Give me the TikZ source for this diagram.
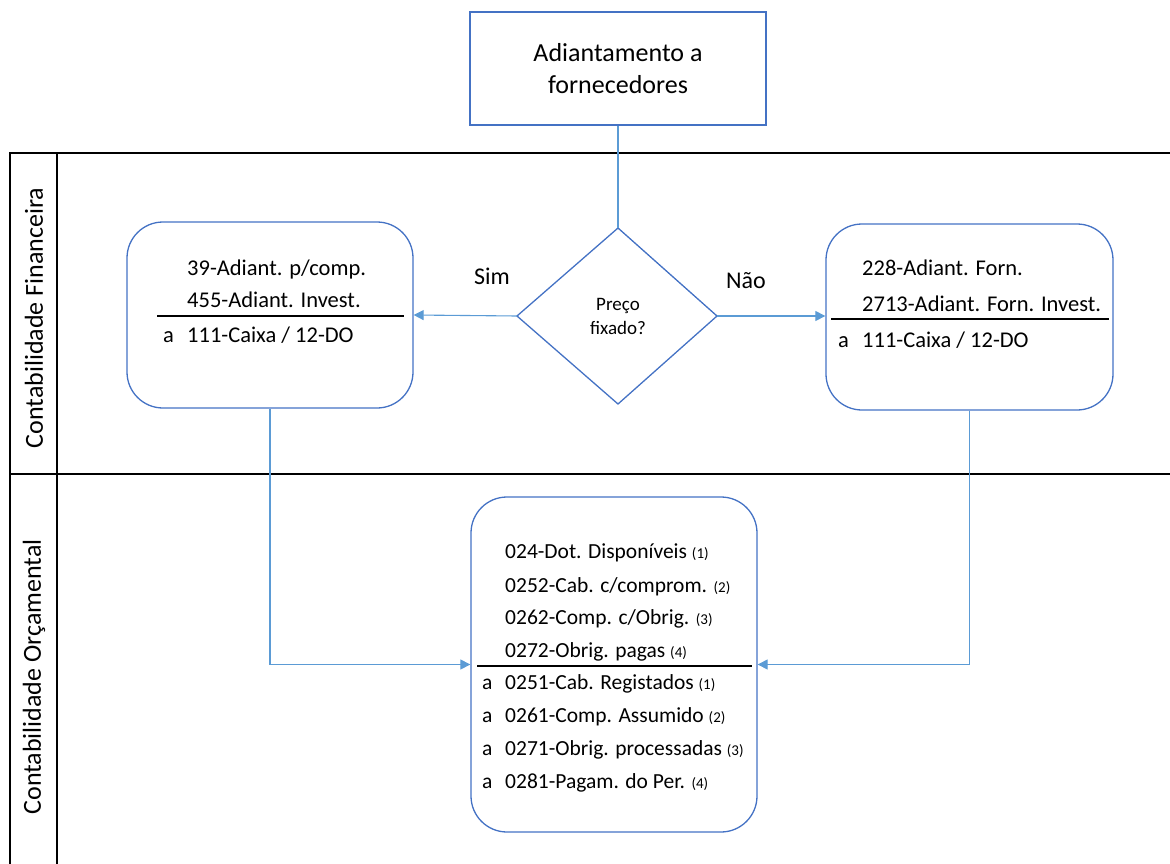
\documentclass[tikz,border=0pt]{standalone}
\usepackage{fontspec}
\setmainfont{Carlito}
\usetikzlibrary{arrows.meta,calc}
\definecolor{boxblue}{RGB}{68,114,196}
\definecolor{arrblue}{RGB}{91,155,213}
\newcommand{\smnum}[1]{{\fontsize{15}{16}\selectfont #1}}
\tikzset{
  x=1pt,y=-1pt,
  lane/.style={line width=2pt,black},
  procbox/.style={draw=boxblue,line width=1.3pt,rounded corners=36pt,inner sep=0pt},
  topbox/.style={draw=boxblue,line width=1.6pt,inner sep=0pt,align=center,font=\fontsize{26}{32}\selectfont},
  conn/.style={draw=arrblue,line width=1.1pt},
  arr/.style={conn,-{Triangle[length=10pt,width=10pt]}},
  txt/.style={anchor=base west,inner sep=0pt,font=\fontsize{22.5}{26}\selectfont},
  btxt/.style={anchor=base west,inner sep=0pt,font=\fontsize{21.5}{26}\selectfont},
  rule/.style={line width=1.6pt,black},
  lanelabel/.style={rotate=90,font=\fontsize{26}{30}\selectfont},
  lbl/.style={font=\fontsize{24}{26}\selectfont,anchor=base},
}
\begin{document}
\begin{tikzpicture}
\useasboundingbox (0,0) rectangle (1170,864);
% swimlanes
\draw[lane] (1170,153) -- (10,153) -- (10,864);
\draw[lane] (57,153) -- (57,864);
\draw[lane] (10,474) -- (1170,474);
\node[lanelabel] (lfin) at (34,318) {Contabilidade Financeira};
\node[lanelabel] (lorc) at (34,677) {Contabilidade Orçamental};
% top box
\node[topbox,minimum width=296,minimum height=113] (top) at (618,68.5) {Adiantamento a\\fornecedores};
% diamond
\coordinate (dt) at (618,228);
\coordinate (dl) at (517,316);
\coordinate (dr) at (717,316);
\coordinate (db) at (618,404);
\draw[draw=boxblue,line width=1.3pt] (dt) -- (dr) -- (db) -- (dl) -- cycle;
\node[align=center,inner sep=0pt,font=\fontsize{19}{24}\selectfont] (q) at (618,316) {Preço\\fixado?};
% left box
\node[procbox,minimum width=286,minimum height=186] (lb) at (270,315) {};
\node[txt] (l1) at (187,275) {39-Adiant. p/comp.};
\node[txt] (l2) at (187,307) {455-Adiant. Invest.};
\draw[rule] (157,316) -- (404,316);
\node[txt] (la) at (163,342) {a};
\node[txt] (l3) at (187,342) {111-Caixa / 12-DO};
% right box
\node[procbox,minimum width=287,minimum height=186] (rb) at (969.5,317) {};
\node[txt] (r1) at (862,275) {228-Adiant. Forn.};
\node[txt] (r2) at (862,311) {2713-Adiant. Forn. Invest.};
\draw[rule] (831,319) -- (1109,319);
\node[txt] (ra) at (838,347) {a};
\node[txt] (r3) at (862,347) {111-Caixa / 12-DO};
% bottom box
\node[procbox,minimum width=286,minimum height=335] (bb) at (614,664.5) {};
\node[btxt] (b1) at (505,558) {024-Dot. Disponíveis \smnum{(1)}};
\node[btxt] (b2) at (505,592) {0252-Cab. c/comprom. \smnum{(2)}};
\node[btxt] (b3) at (505,624) {0262-Comp. c/Obrig. \smnum{(3)}};
\node[btxt] (b4) at (505,657) {0272-Obrig. pagas \smnum{(4)}};
\draw[rule] (477,666) -- (752,666);
\node[btxt] (ba1) at (482,689) {a};
\node[btxt] (b5) at (505,689) {0251-Cab. Registados \smnum{(1)}};
\node[btxt] (ba2) at (482,722) {a};
\node[btxt] (b6) at (505,722) {0261-Comp. Assumido \smnum{(2)}};
\node[btxt] (ba3) at (482,755) {a};
\node[btxt] (b7) at (505,755) {0271-Obrig. processadas \smnum{(3)}};
\node[btxt] (ba4) at (482,788) {a};
\node[btxt] (b8) at (505,788) {0281-Pagam. do Per. \smnum{(4)}};
% labels
\node[lbl] (sim) at (492,284) {Sim};
\node[lbl] (nao) at (746,288) {Não};
% connectors
\draw[conn] (top.south) -- (dt);
\draw[arr] (dl) -- (lb.east);
\draw[arr] (dr) -- (rb.west |- dr);
\draw[arr] (lb.south) |- (bb.west);
\draw[arr] (rb.south) |- (bb.east);
\end{tikzpicture}
\end{document}
